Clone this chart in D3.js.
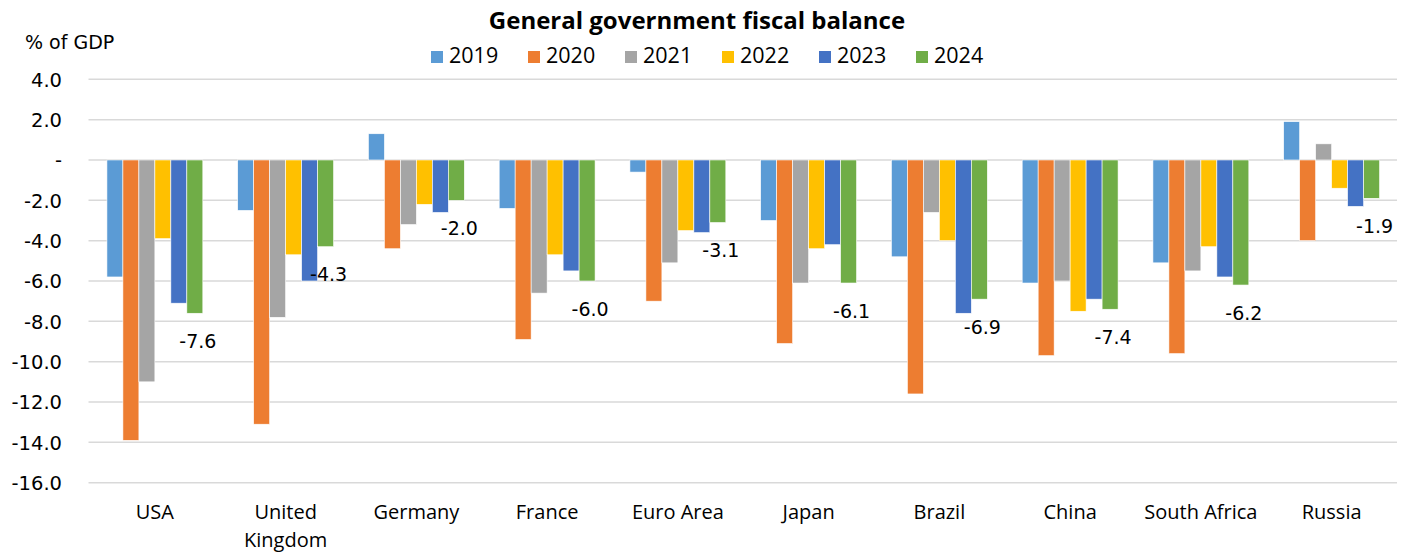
<!DOCTYPE html>
<html>
<head>
<meta charset="utf-8">
<script src="https://cdn.jsdelivr.net/npm/d3@7"></script>
<style>
  html, body { margin: 0; padding: 0; background: #fff; }
  svg { display: block; }
</style>
</head>
<body>
<svg id="chart" width="1407" height="552"></svg>
<script>
// General government fiscal balance, % of GDP
const countries = ["USA", "United Kingdom", "Germany", "France", "Euro Area", "Japan", "Brazil", "China", "South Africa", "Russia"];
const years = ["2019", "2020", "2021", "2022", "2023", "2024"];
const y2019 = [-5.8, -2.5, 1.3, -2.4, -0.6, -3.0, -4.8, -6.1, -5.1, 1.9];
const y2020 = [-13.9, -13.1, -4.4, -8.9, -7.0, -9.1, -11.6, -9.7, -9.6, -4.0];
const y2021 = [-11.0, -7.8, -3.2, -6.6, -5.1, -6.1, -2.6, -6.0, -5.5, 0.8];
const y2022 = [-3.9, -4.7, -2.2, -4.7, -3.5, -4.4, -4.0, -7.5, -4.3, -1.4];
const y2023 = [-7.1, -6.0, -2.6, -5.5, -3.6, -4.2, -7.6, -6.9, -5.8, -2.3];
const y2024 = [-7.6, -4.3, -2.0, -6.0, -3.1, -6.1, -6.9, -7.4, -6.2, -1.9];
const yTicks = [4, 2, 0, -2, -4, -6, -8, -10, -12, -14, -16];
const colors = ["#5B9BD5", "#ED7D31", "#A5A5A5", "#FFC000", "#4472C4", "#70AD47"];

const series = [y2019, y2020, y2021, y2022, y2023, y2024];

const svg = d3.select("#chart");
const plotLeft = 89.5, plotRight = 1397, plotTop = 79.3, plotBottom = 482.7;

const x = d3.scaleBand().domain(countries).range([plotLeft, plotRight]).paddingInner(0).paddingOuter(0);
const x1 = d3.scaleBand().domain(years).range([0, x.bandwidth()]).paddingInner(0).paddingOuter(1.09);
const y = d3.scaleLinear().domain([-16, 4]).range([plotBottom, plotTop]);

// plain hyphen for negatives, "-" for zero
const num = v => d3.format(".1f")(v).replace("\u2212", "-");
const tickFmt = v => v === 0 ? "-" : num(v);

const labelFont = "'DejaVu Sans', Verdana, sans-serif";
const catFont = "'Open Sans', 'Liberation Sans', sans-serif";

// gridlines
svg.append("g")
  .selectAll("line")
  .data(yTicks)
  .join("line")
  .attr("x1", plotLeft - 1).attr("x2", plotRight)
  .attr("y1", d => y(d)).attr("y2", d => y(d))
  .attr("stroke", "#D9D9D9").attr("stroke-width", 1.5);

// y axis labels
const yAxis = d3.axisLeft(y).tickValues(yTicks).tickFormat(tickFmt).tickSize(0).tickPadding(0);
const gy = svg.append("g").attr("transform", `translate(62,0)`).call(yAxis);
gy.select(".domain").remove();
gy.selectAll("text")
  .attr("font-family", labelFont)
  .attr("font-size", 19.5)
  .attr("fill", "#000")
  .attr("dy", "0.35em");

// bars
const groups = svg.append("g")
  .selectAll("g")
  .data(series)
  .join("g")
  .attr("fill", (d, i) => colors[i]);

groups.each(function (vals, si) {
  d3.select(this).selectAll("rect")
    .data(vals.map((v, ci) => ({ v, c: countries[ci] })))
    .join("rect")
    .attr("x", d => x(d.c) + x1(years[si]))
    .attr("width", x1.bandwidth())
    .attr("y", d => y(Math.max(0, d.v)))
    .attr("height", d => Math.abs(y(d.v) - y(0)))
    .attr("stroke", "#fff")
    .attr("stroke-width", 0.6);
});

// data labels for 2024
svg.append("g")
  .selectAll("text")
  .data(y2024.map((v, ci) => ({ v, c: countries[ci] })))
  .join("text")
  .attr("x", d => x(d.c) + x1("2024") + x1.bandwidth() / 2 + 3)
  .attr("y", d => y(d.v) + 28)
  .attr("dy", "0.35em")
  .attr("text-anchor", "middle")
  .attr("font-family", labelFont)
  .attr("font-size", 19)
  .attr("fill", "#000")
  .text(d => num(d.v));

// category labels
const xAxis = d3.axisBottom(x).tickSize(0).tickPadding(0);
const gx = svg.append("g").attr("transform", `translate(0,${plotBottom})`).call(xAxis);
gx.select(".domain").remove();
gx.selectAll("text")
  .attr("font-family", catFont)
  .attr("font-size", 20)
  .attr("fill", "#000")
  .each(function (d) {
    const t = d3.select(this);
    t.text(null).attr("y", 0).attr("dy", null);
    const words = d === "United Kingdom" ? ["United", "Kingdom"] : [d];
    words.forEach((w, i) => {
      t.append("tspan").attr("x", 0).attr("y", 36.5 + i * 28).text(w);
    });
  });

// title
svg.append("text")
  .attr("x", 697).attr("y", 28.5)
  .attr("text-anchor", "middle")
  .attr("font-family", catFont)
  .attr("font-weight", "bold")
  .attr("font-size", 24)
  .attr("fill", "#000")
  .text("General government fiscal balance");

// unit label
svg.append("text")
  .attr("x", 25).attr("y", 49)
  .attr("font-family", labelFont)
  .attr("font-size", 19)
  .attr("fill", "#000")
  .text("% of GDP");

// legend
const legend = svg.append("g")
  .selectAll("g")
  .data(years)
  .join("g")
  .attr("transform", (d, i) => `translate(${431 + i * 97},0)`);
legend.append("rect")
  .attr("x", 0).attr("y", 51).attr("width", 12).attr("height", 12)
  .attr("fill", (d, i) => colors[i]);
legend.append("text")
  .attr("x", 18).attr("y", 63)
  .attr("font-family", catFont)
  .attr("font-size", 21.5)
  .attr("fill", "#000")
  .text(d => d);
</script>
</body>
</html>
